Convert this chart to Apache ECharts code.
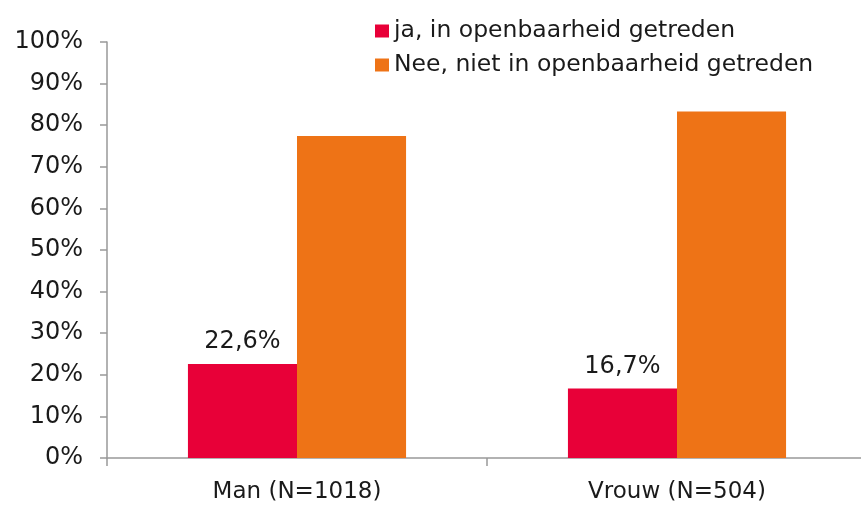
<!DOCTYPE html>
<html>
<head>
<meta charset="utf-8">
<script src="https://cdn.jsdelivr.net/npm/echarts@6/dist/echarts.min.js"></script>
<style>html,body{margin:0;padding:0;background:#fff;overflow:hidden;width:861px;height:505px}#c{width:867px;height:505px}</style>
</head>
<body>
<div id="c"></div>
<script>
const categories = ['Man (N=1018)', 'Vrouw (N=504)'];
const seriesNames = ['ja, in openbaarheid getreden', 'Nee, niet in openbaarheid getreden'];
const jaValues = [22.6, 16.7];
const neeValues = [77.4, 83.3];
const yTicks = [0, 10, 20, 30, 40, 50, 60, 70, 80, 90, 100];

const FONT = 'DejaVu Sans';
const chart = echarts.init(document.getElementById('c'), null, {renderer: 'canvas'});
chart.setOption({
  animation: false,
  textStyle: {fontFamily: FONT},
  color: ['#E80038', '#EE7316'],
  legend: {
    orient: 'vertical', left: 370, top: 13,
    itemWidth: 14, itemHeight: 13, itemGap: 8,
    icon: 'rect',
    textStyle: {fontSize: 23.5, color: '#1a1a1a', fontFamily: FONT, lineHeight: 26},
    data: seriesNames
  },
  grid: {left: 107, top: 42, right: 0, bottom: 47, containLabel: false},
  xAxis: {
    type: 'category', data: categories,
    axisLine: {lineStyle: {color: '#999', width: 1.5}},
    axisTick: {show: true, length: 8, lineStyle: {color: '#999', width: 1.5}},
    axisLabel: {fontSize: 23, color: '#1a1a1a', margin: 23, fontFamily: FONT}
  },
  yAxis: {
    type: 'value', min: yTicks[0], max: yTicks[yTicks.length-1], interval: 10,
    axisLine: {show: true, lineStyle: {color: '#999', width: 1.5}},
    axisTick: {show: true, length: 7, lineStyle: {color: '#999', width: 1.5}},
    splitLine: {show: false},
    axisLabel: {fontSize: 24, color: '#1a1a1a', margin: 24, fontFamily: FONT, formatter: v => v + '%'}
  },
  series: [
    {
      name: seriesNames[0], type: 'bar', data: jaValues,
      barCategoryGap: '42.6%', barGap: '0%',
      label: {show: true, position: 'top', distance: 10, fontSize: 24, color: '#1a1a1a', fontFamily: FONT,
        formatter: p => String(p.value).replace('.', ',') + '%'}
    },
    {
      name: seriesNames[1], type: 'bar', data: neeValues,
      barCategoryGap: '42.6%', barGap: '0%'
    }
  ]
});
</script>
</body>
</html>
